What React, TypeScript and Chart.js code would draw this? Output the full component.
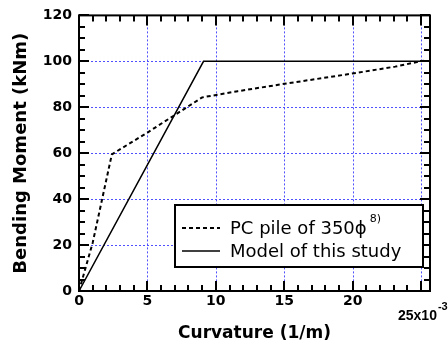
import React, { useEffect, useRef } from 'react';
import { Chart, registerables } from 'chart.js';
Chart.register(...registerables);

// Data
const pcCurvature = [0, 1.0, 2.4, 5.0, 7.1, 9.0, 11.6, 15.0, 17.9, 20.1, 23.1, 25.2];
const pcMoment = [0, 21, 59.5, 69, 77, 84.3, 87, 90.2, 92.8, 94.8, 97.7, 100.3];
const modelCurvature = [0, 9.1, 25];
const modelMoment = [0, 100, 100];
const xMajorTicks = [0, 5, 10, 15, 20, 25];
const yMajorTicks = [0, 20, 40, 60, 80, 100, 120];
const seriesNames = ['PC pile of 350\u03D5', 'Model of this study'];
const seriesSup = ['8)', ''];
const xTitle = 'Curvature (1/m)';
const yTitle = 'Bending Moment (kNm)';
const xExpBase = '25x10';
const xExp = '-3';

const X_MIN = 0;
const X_MAX = 25.65;
const Y_MIN = 0;
const Y_MAX = 120;

const GRID_COLOR = 'rgb(80,80,255)';

const decorPlugin = {
  id: 'decor',
  beforeDatasetsDraw(chart: any) {
    const { ctx, chartArea: a, scales } = chart;
    const xs = scales.x;
    const ys = scales.y;
    ctx.save();
    ctx.strokeStyle = GRID_COLOR;
    ctx.lineWidth = 1;
    ctx.setLineDash([2, 2]);
    xMajorTicks.forEach((v) => {
      if (v <= X_MIN) return;
      const px = Math.round(xs.getPixelForValue(v)) + 0.5;
      ctx.beginPath();
      ctx.moveTo(px, a.top);
      ctx.lineTo(px, a.bottom);
      ctx.stroke();
    });
    yMajorTicks.forEach((v) => {
      if (v <= Y_MIN || v >= Y_MAX) return;
      const py = Math.round(ys.getPixelForValue(v)) + 0.5;
      ctx.beginPath();
      ctx.moveTo(a.left, py);
      ctx.lineTo(a.right, py);
      ctx.stroke();
    });
    ctx.restore();
  },
  afterDatasetsDraw(chart: any) {
    const { ctx, chartArea: a, scales } = chart;
    const xs = scales.x;
    const ys = scales.y;
    ctx.save();
    ctx.setLineDash([]);
    ctx.strokeStyle = '#000';
    ctx.lineWidth = 2;
    // ticks inside on all four sides
    for (let v = 0; v <= 25; v += 1) {
      const px = Math.round(xs.getPixelForValue(v));
      const len = v % 5 === 0 ? 10 : 6;
      ctx.beginPath();
      ctx.moveTo(px, a.bottom);
      ctx.lineTo(px, a.bottom - len);
      ctx.moveTo(px, a.top);
      ctx.lineTo(px, a.top + len);
      ctx.stroke();
    }
    for (let v = 0; v <= 120; v += 5) {
      const py = Math.round(ys.getPixelForValue(v));
      const len = v % 20 === 0 ? 10 : 6;
      ctx.beginPath();
      ctx.moveTo(a.left, py);
      ctx.lineTo(a.left + len, py);
      ctx.moveTo(a.right, py);
      ctx.lineTo(a.right - len, py);
      ctx.stroke();
    }
    // frame
    ctx.strokeRect(a.left, a.top, a.right - a.left, a.bottom - a.top);

    // legend
    const lx = 175, ly = 205, lw = 248, lh = 62;
    ctx.fillStyle = '#fff';
    ctx.fillRect(lx, ly, lw, lh);
    ctx.lineWidth = 2;
    ctx.strokeRect(lx, ly, lw, lh);
    const rows = [228, 251];
    const dashes = [[4, 3], []];
    const widths = [2, 1.5];
    ctx.textBaseline = 'alphabetic';
    ctx.textAlign = 'left';
    rows.forEach((ry, i) => {
      ctx.strokeStyle = '#000';
      ctx.lineWidth = widths[i];
      ctx.setLineDash(dashes[i]);
      ctx.beginPath();
      ctx.moveTo(182, ry);
      ctx.lineTo(220, ry);
      ctx.stroke();
      ctx.setLineDash([]);
      ctx.fillStyle = '#000';
      ctx.font = '18px "DejaVu Sans"';
      ctx.fillText(seriesNames[i], 230, ry + 6);
      if (seriesSup[i]) {
        const w = ctx.measureText(seriesNames[i]).width;
        ctx.font = '11px "DejaVu Sans"';
        ctx.fillText(seriesSup[i], 230 + w + 3, ry - 6);
      }
    });

    // exponent tick label at 25
    ctx.fillStyle = '#000';
    ctx.font = 'bold 14px "Liberation Sans"';
    ctx.textAlign = 'left';
    const bw = ctx.measureText(xExpBase).width;
    const bx = 398;
    ctx.fillText(xExpBase, bx, 320);
    ctx.font = 'bold 11px "Liberation Sans"';
    ctx.fillText(xExp, bx + bw + 1, 310);

    // axis titles
    ctx.font = 'bold 17px "DejaVu Sans"';
    ctx.textAlign = 'center';
    ctx.textBaseline = 'middle';
    ctx.fillText(xTitle, (a.left + a.right) / 2, 334);
    ctx.save();
    ctx.translate(21, (a.top + a.bottom) / 2);
    ctx.rotate(-Math.PI / 2);
    ctx.font = 'bold 18px "DejaVu Sans"';
    ctx.fillText(yTitle, 0, 0);
    ctx.restore();
    ctx.restore();
  },
};

export default function App() {
  const ref = useRef<HTMLCanvasElement | null>(null);
  useEffect(() => {
    document.body.style.margin = '0';
    const canvas = ref.current!;
    const chart = new Chart(canvas, {
      type: 'line',
      data: {
        datasets: [
          {
            label: seriesNames[0],
            data: pcCurvature.map((x, i) => ({ x, y: pcMoment[i] })),
            borderColor: '#000',
            borderWidth: 2,
            borderDash: [4, 3],
            pointRadius: 0,
            fill: false,
            tension: 0,
          },
          {
            label: seriesNames[1],
            data: modelCurvature.map((x, i) => ({ x, y: modelMoment[i] })),
            borderColor: '#000',
            borderWidth: 1.5,
            pointRadius: 0,
            fill: false,
            tension: 0,
          },
        ],
      },
      options: {
        animation: false,
        responsive: false,
        maintainAspectRatio: false,
        layout: { padding: { top: 14, right: 18, left: 0, bottom: 0 } },
        plugins: { legend: { display: false }, tooltip: { enabled: false } },
        scales: {
          x: {
            type: 'linear',
            min: X_MIN,
            max: X_MAX,
            grid: { display: false, drawTicks: false },
            border: { display: false },
            ticks: {
              stepSize: 5,
              includeBounds: false,
              autoSkip: false,
              maxRotation: 0,
              padding: 2,
              color: '#000',
              font: { family: 'DejaVu Sans', size: 14, weight: 'bold' },
              callback: (v: any) => (v === 25 ? '' : String(v)),
            },
            afterFit: (s: any) => {
              s.height = 54;
            },
          },
          y: {
            type: 'linear',
            min: Y_MIN,
            max: Y_MAX,
            grid: { display: false, drawTicks: false },
            border: { display: false },
            ticks: {
              stepSize: 20,
              padding: 7,
              color: '#000',
              font: { family: 'DejaVu Sans', size: 14, weight: 'bold' },
            },
            afterFit: (s: any) => {
              s.width = 79;
            },
          },
        },
      },
      plugins: [decorPlugin],
    } as any);
    return () => chart.destroy();
  }, []);
  return <canvas ref={ref} width={448} height={345} style={{ display: 'block' }} />;
}
